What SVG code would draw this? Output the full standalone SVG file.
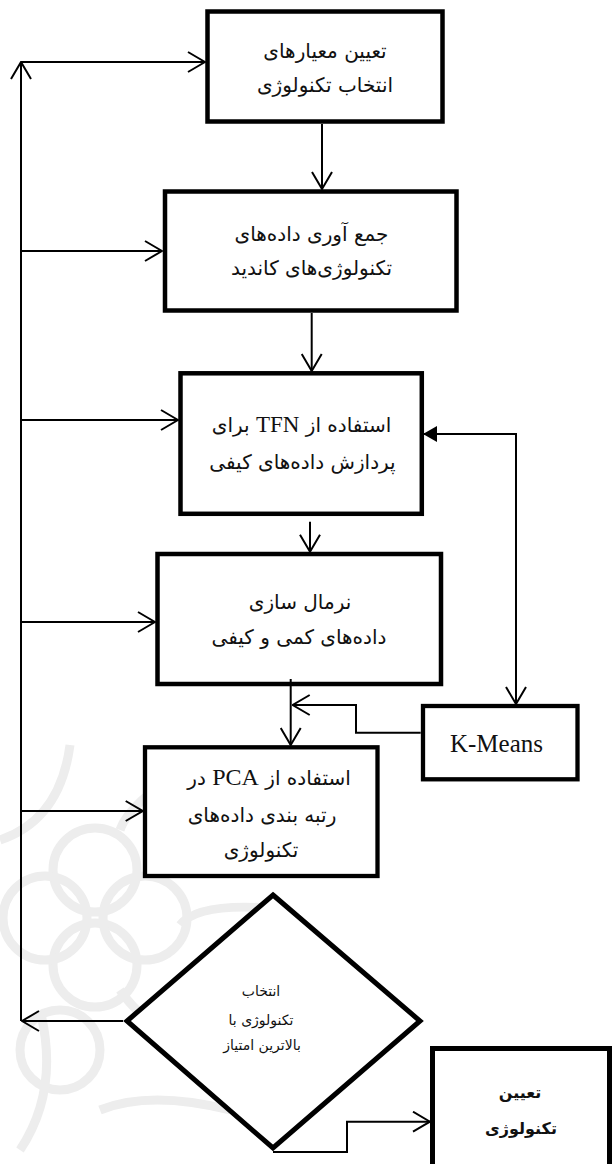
<svg xmlns="http://www.w3.org/2000/svg" width="613" height="1164" viewBox="0 0 613 1164">
<style>
.box{fill:#fff;stroke:#000;stroke-width:4.5}
.fa{font-family:"DejaVu Sans",sans-serif;font-size:20px;fill:#111;text-anchor:middle}
.dm{font-size:14px}
.fb{font-size:16px;font-weight:bold}
.lat{font-family:"Liberation Serif",serif;fill:#111}
.c{fill:none;stroke:#000;stroke-width:2}
.wm{fill:none;stroke:#ededed;stroke-width:9}
</style>
<defs>
<marker id="ah" viewBox="0 0 20 22" refX="19" refY="11" markerWidth="20" markerHeight="22" markerUnits="userSpaceOnUse" orient="auto-start-reverse">
<path d="M2,1 L19,11 L2,21" fill="none" stroke="#000" stroke-width="2"/>
</marker>
<marker id="fh" viewBox="0 0 14 16" refX="13" refY="8" markerWidth="14" markerHeight="16" markerUnits="userSpaceOnUse" orient="auto">
<path d="M0,0 L14,8 L0,16Z" fill="#000"/>
</marker>
</defs>
<rect width="613" height="1164" fill="#fff"/>
<g id="watermark">
<circle class="wm" cx="95" cy="870" r="42"/>
<circle class="wm" cx="95" cy="965" r="42"/>
<circle class="wm" cx="45" cy="918" r="42"/>
<circle class="wm" cx="145" cy="918" r="42"/>
<circle class="wm" cx="60" cy="1050" r="40"/>
<path class="wm" d="M70,745 Q60,820 0,840"/>
<path class="wm" d="M200,760 Q130,800 120,830"/>
<path class="wm" d="M290,910 Q200,900 180,925"/>
<path class="wm" d="M190,1050 Q140,1020 120,990"/>
<path class="wm" d="M230,1110 Q150,1090 100,1110"/>
<path class="wm" d="M20,1150 Q60,1090 40,1010"/>
</g>
<g id="n1">
<rect class="box" x="207.5" y="11.5" width="235" height="110"/>
<text class="fa" x="325" y="58" direction="rtl">تعیین معیارهای</text>
<text class="fa" x="325" y="92" direction="rtl">انتخاب تکنولوژی</text>
</g>
<g id="n2">
<rect class="box" x="165" y="191.5" width="291.5" height="119"/>
<text class="fa" x="311.5" y="241" direction="rtl">جمع آوری داده‌های</text>
<text class="fa" x="311.5" y="275" direction="rtl">تکنولوژی‌های کاندید</text>
</g>
<g id="n3">
<rect class="box" x="180.5" y="373.3" width="241.3" height="140.5"/>
<text class="fa" x="301.5" y="431.5" direction="rtl">استفاده از <tspan class="lat" font-size="23">TFN</tspan> برای</text>
<text class="fa" x="302.5" y="469" direction="rtl">پردازش داده‌های کیفی</text>
</g>
<g id="n4">
<rect class="box" x="157.5" y="554" width="283.5" height="130"/>
<text class="fa" x="300" y="609" direction="rtl">نرمال سازی</text>
<text class="fa" x="299" y="644" direction="rtl">داده‌های کمی و کیفی</text>
</g>
<g id="n5">
<rect class="box" x="145" y="747.3" width="232.5" height="128.7" style="stroke-width:4.3"/>
<text class="fa" x="269" y="785" direction="rtl">استفاده از <tspan class="lat" font-size="24">PCA</tspan> در</text>
<text class="fa" x="262" y="822" direction="rtl">رتبه بندی داده‌های</text>
<text class="fa" x="261" y="857" direction="rtl">تکنولوژی</text>
</g>
<g id="kmeans">
<rect class="box" x="423" y="706" width="154.5" height="73.3" style="stroke-width:4.3"/>
<text class="lat" x="496.5" y="751.5" font-size="25" text-anchor="middle">K-Means</text>
</g>
<g id="decision">
<polygon points="273,895 420,1021 273,1148 127,1021" fill="#fff" stroke="#000" stroke-width="5"/>
<text class="fa dm" x="261" y="996" direction="rtl">انتخاب</text>
<text class="fa dm" x="261" y="1025" direction="rtl">تکنولوژی با</text>
<text class="fa dm" x="262" y="1050" direction="rtl">بالاترین امتیاز</text>
</g>
<g id="final">
<rect class="box" x="432.5" y="1048.5" width="177" height="130" style="stroke-width:5"/>
<text class="fa fb" x="520" y="1098" direction="rtl">تعیین</text>
<text class="fa fb" x="521" y="1134" direction="rtl">تکنولوژی</text>
</g>
<g id="connectors">
<path class="c" d="M322,124 V189" marker-end="url(#ah)"/>
<path class="c" d="M311.7,313 V371" marker-end="url(#ah)"/>
<path class="c" d="M310,521.7 V551.7" marker-end="url(#ah)"/>
<path class="c" d="M290.7,679 V745" marker-end="url(#ah)"/>
<path class="c" d="M420.7,732.7 H356 V705 H292.7" marker-end="url(#ah)"/>
<path class="c" d="M516,704 V434 H424" marker-start="url(#ah)" marker-end="url(#fh)"/>
<path class="c" d="M21,1021 V62" marker-end="url(#ah)"/>
<path class="c" d="M21,62 H205" marker-end="url(#ah)"/>
<path class="c" d="M21,251 H162" marker-end="url(#ah)"/>
<path class="c" d="M21,420 H178" marker-end="url(#ah)"/>
<path class="c" d="M21,622 H155" marker-end="url(#ah)"/>
<path class="c" d="M21,811 H142.7" marker-end="url(#ah)"/>
<path class="c" d="M123,1021 H22" marker-end="url(#ah)"/>
<path class="c" d="M273,1152 H347 V1121.7 H430" marker-end="url(#ah)"/>
</g>
</svg>
